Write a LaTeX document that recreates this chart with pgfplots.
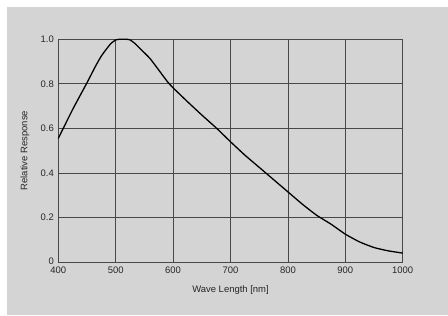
\documentclass[border=0pt]{standalone}
\usepackage{fontspec}
\setmainfont{Liberation Sans}
\usepackage{pgfplots}
\pgfplotsset{compat=1.18}
\definecolor{bg}{RGB}{212,212,212}
\definecolor{gridc}{RGB}{72,72,72}
\begin{document}
\begin{tikzpicture}[x=1bp,y=1bp]
\useasboundingbox (0,0) rectangle (448,315);
\fill[white] (0,0) rectangle (448,315);
\fill[bg] (7.3,0) rectangle (448,307.7);
\begin{axis}[
  at={(58.3bp,53bp)}, anchor=south west,
  scale only axis, width=344.4bp, height=222.7bp,
  xmin=400, xmax=1000, ymin=0, ymax=1,
  xtick={400,500,600,700,800,900,1000},
  xticklabels={400,500,600,700,800,900,1000},
  ytick={0,0.2,0.4,0.6,0.8,1.0},
  yticklabels={\raisebox{2bp}{0},0.2,0.4,0.6,0.8,1.0},
  grid=major,
  major grid style={gridc, line width=0.8bp},
  axis line style={gridc, line width=0.8bp},
  tick style={draw=none},
  ticklabel style={font=\fontsize{9.5}{10}\selectfont, text=black!85},
  xticklabel style={yshift=-1.2bp},
  yticklabel style={xshift=-1bp},
  xlabel={Wave Length [nm]},
  ylabel={Relative Response},
  label style={font=\fontsize{9.5}{10}\selectfont, text=black!85},
  x label style={at={(axis description cs:0.5,-0.1257)}, anchor=center},
  y label style={at={(axis description cs:-0.0967,0.5)}, anchor=center},
  clip=false,
]
\addplot[black, line width=1.3bp, smooth, tension=0.3] coordinates {
(400,0.555) (425,0.685) (450,0.805) (465,0.88) (475,0.925) (485,0.96)
(492,0.982) (500,0.997) (506,1.0) (520,1.0) (526,0.996)
(534,0.98) (545,0.952) (560,0.913) (575,0.862) (590,0.81) (600,0.782)
(625,0.72) (650,0.66) (676,0.60) (700,0.54)
(725,0.48) (750,0.425) (775,0.37) (800,0.315) (825,0.26) (850,0.21)
(875,0.17) (900,0.125) (925,0.09) (950,0.065) (975,0.05) (1000,0.04)
};
\end{axis}
\end{tikzpicture}
\end{document}
